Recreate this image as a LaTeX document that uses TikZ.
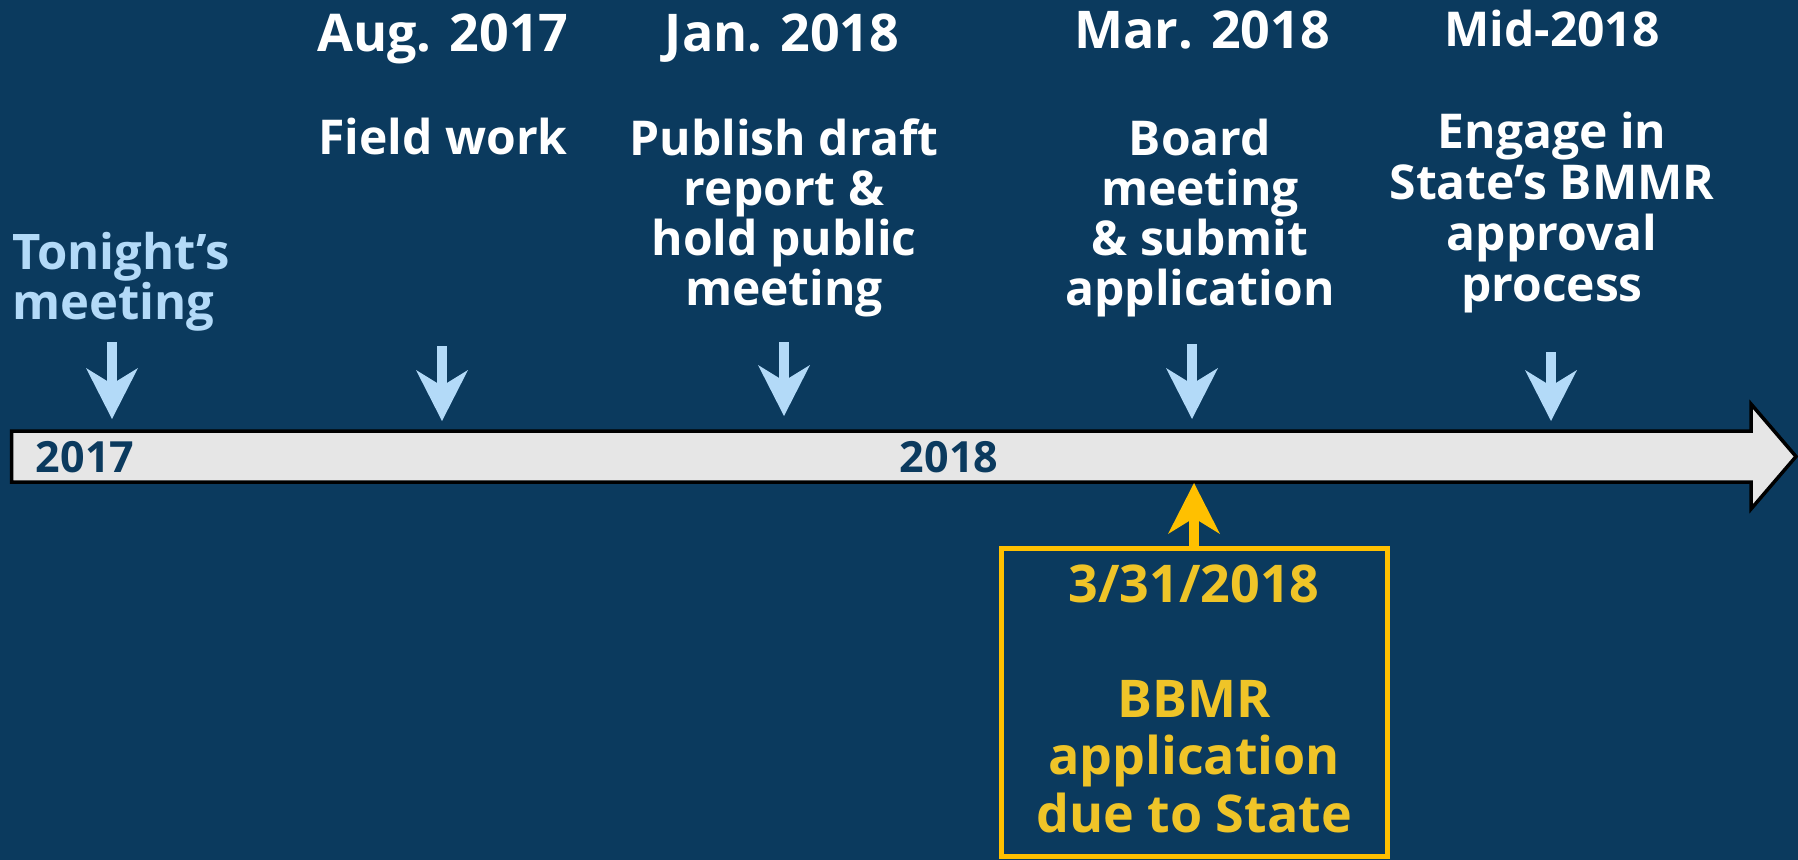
\documentclass[tikz,border=0pt]{standalone}
\usepackage{fontspec}
\setmainfont{Open Sans}
\usetikzlibrary{arrows.meta}
\definecolor{bg}{HTML}{0B3A5E}
\definecolor{lblue}{HTML}{B3DAF8}
\definecolor{ytext}{HTML}{EFC428}
\definecolor{yline}{HTML}{FFC000}
\definecolor{barfill}{HTML}{E6E6E6}
\tikzset{
  hdr/.style={text=white, inner sep=0pt, anchor=base, font=\bfseries\fontsize{52bp}{56bp}\selectfont},
  body/.style={text=white, inner sep=0pt, anchor=base, align=center, font=\bfseries\fontsize{48bp}{50bp}\selectfont},
  yrtext/.style={text=bg, inner sep=0pt, anchor=base, font=\bfseries\fontsize{43bp}{46bp}\selectfont},
  marker/.style={draw=lblue, line width=10bp, -{Stealth[length=51bp, width=52bp, inset=16bp, line width=0pt]}},
  ymarker/.style={draw=yline, line width=10bp, -{Stealth[length=51bp, width=52bp, inset=16bp, line width=0pt]}},
}
\begin{document}
\begin{tikzpicture}[x=1bp, y=-1bp]
\useasboundingbox (0,0) rectangle (1798,860);
\fill[bg] (0,0) rectangle (1798,860);
% timeline bar
\draw[fill=barfill, draw=black, line width=3.5bp, line join=miter]
  (11.5,431) -- (1751,431) -- (1751,404) -- (1796,456.5) -- (1751,509) -- (1751,482) -- (11.5,482) -- cycle;
\node[yrtext] (y17) at (85,472) {2017};
\node[yrtext] (y18) at (949,472) {2018};
% headers
\node[hdr] (h1) at (443,51) {Aug. 2017};
\node[hdr] (h2) at (782,51) {Jan. 2018};
\node[hdr] (h3) at (1202,48) {Mar. 2018};
\node[hdr, font=\bfseries\fontsize{48bp}{52bp}\selectfont] (h4) at (1552,46) {Mid-2018};
% descriptions (base anchor = baseline of last line)
\node[body, text=lblue, align=left, anchor=base west, font=\bfseries\fontsize{49bp}{50bp}\selectfont] (d0) at (12,319) {Tonight’s\\meeting};
\node[body] (d1) at (443,154) {Field work};
\node[body] (d2) at (784,305) {Publish draft\\report \&\\hold public\\meeting};
\node[body] (d3) at (1200,305) {Board\\meeting\\\& submit\\application};
\node[body, font=\bfseries\fontsize{48bp}{51bp}\selectfont] (d4) at (1552,301) {Engage in\\State’s BMMR\\approval\\process};
% markers
\coordinate (a0) at (112,342); \coordinate (b0) at (112,419);
\coordinate (a1) at (442,346); \coordinate (b1) at (442,421);
\coordinate (a2) at (784,342); \coordinate (b2) at (784,416);
\coordinate (a3) at (1192,344); \coordinate (b3) at (1192,419);
\coordinate (a4) at (1551,352); \coordinate (b4) at (1551,421);
\foreach \i in {0,...,4} { \draw[marker] (a\i) -- (b\i); }
% deadline box
\node[draw=yline, line width=5bp, minimum width=386bp, minimum height=308bp, inner sep=0pt] (box) at (1194,702.5) {};
\node[text=ytext, inner sep=0pt, anchor=base, align=center, font=\bfseries\fontsize{52bp}{57.5bp}\selectfont] (boxtext) at (1194,832)
  {3/31/2018\\[57.5bp]BBMR\\application\\due to State};
\coordinate (due) at (1194,483);
\draw[ymarker] (box.north) -- (due);
\end{tikzpicture}
\end{document}
